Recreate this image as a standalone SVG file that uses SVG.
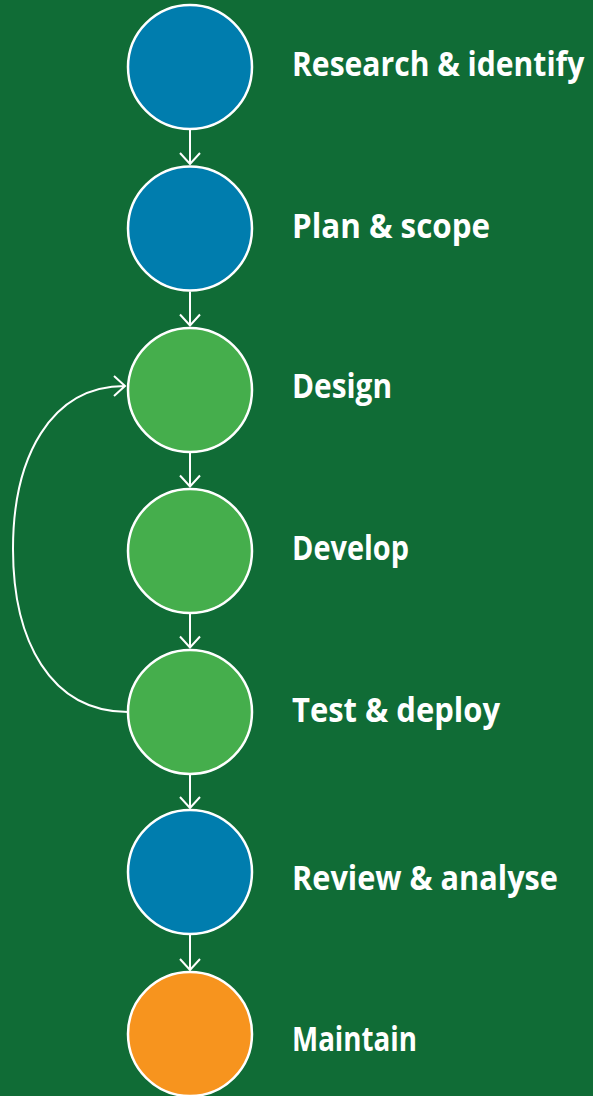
<svg xmlns="http://www.w3.org/2000/svg" width="593" height="1096" viewBox="0 0 593 1096">
<style>
.bg{fill:#106c36}
.n circle{stroke:#fff;stroke-width:2.5}
.blue{fill:#007dae}
.green{fill:#45ae4c}
.orange{fill:#f7941e}
.lbl{font-family:"Open Sans","Liberation Sans",sans-serif;font-weight:bold;font-size:34px;fill:#fff}
.c path{fill:none;stroke:#fff;stroke-width:2}
</style>
<rect class="bg" width="593" height="1096"/>
<g id="n1" class="n"><circle class="blue" cx="190" cy="67" r="62"/><text class="lbl" x="0" y="0" transform="translate(292,76) scale(0.885,1)">Research &amp; identify</text></g>
<g id="n2" class="n"><circle class="blue" cx="190" cy="228.5" r="62"/><text class="lbl" x="292" y="238" textLength="198" lengthAdjust="spacingAndGlyphs">Plan &amp; scope</text></g>
<g id="n3" class="n"><circle class="green" cx="190" cy="390" r="62"/><text class="lbl" x="292" y="398" textLength="100" lengthAdjust="spacingAndGlyphs">Design</text></g>
<g id="n4" class="n"><circle class="green" cx="190" cy="551" r="62"/><text class="lbl" x="292" y="559.5" textLength="117" lengthAdjust="spacingAndGlyphs">Develop</text></g>
<g id="n5" class="n"><circle class="green" cx="190" cy="712" r="62"/><text class="lbl" x="292" y="722" textLength="208" lengthAdjust="spacingAndGlyphs">Test &amp; deploy</text></g>
<g id="n6" class="n"><circle class="blue" cx="190" cy="872" r="62"/><text class="lbl" x="292" y="890" textLength="266" lengthAdjust="spacingAndGlyphs">Review &amp; analyse</text></g>
<g id="n7" class="n"><circle class="orange" cx="190" cy="1034" r="62"/><text class="lbl" x="292" y="1051" textLength="125" lengthAdjust="spacingAndGlyphs">Maintain</text></g>
<g id="connectors" class="c">
<path d="M190,130 V164 M180,153 L190,164 L200,153"/>
<path d="M190,291.5 V325.5 M180,314.5 L190,325.5 L200,314.5"/>
<path d="M190,453 V486.5 M180,475.5 L190,486.5 L200,475.5"/>
<path d="M190,614 V647.5 M180,636.5 L190,647.5 L200,636.5"/>
<path d="M190,775 V808 M180,797 L190,808 L200,797"/>
<path d="M190,935 V970 M180,959 L190,970 L200,959"/>
<path d="M128,712 C50,712 13,640 13,549 C13,458 50,386 125,386 M114,376 L125,386 L114,396"/>
</g>
</svg>
